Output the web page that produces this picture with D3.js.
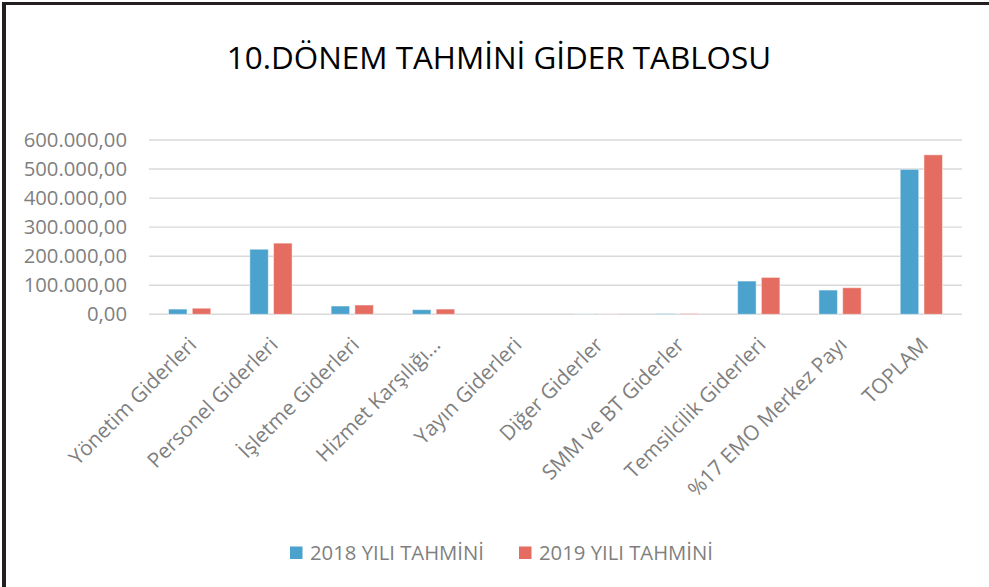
<!DOCTYPE html>
<html><head><meta charset="utf-8">
<script src="https://cdn.jsdelivr.net/npm/d3@7"></script>
<style>html,body{margin:0;padding:0;background:#fff;}svg{display:block;}</style>
</head><body>
<script>
const categories = ["Yönetim Giderleri","Personel Giderleri","İşletme Giderleri","Hizmet Karşılığı...","Yayın Giderleri","Diğer Giderler","SMM ve BT Giderler","Temsilcilik Giderleri","%17 EMO Merkez Payı","TOPLAM"];
const series = ["2018 YILI TAHMİNİ","2019 YILI TAHMİNİ"];
const values2018 = [18000,224000,28500,16000,0,600,2500,114500,83500,499000];
const values2019 = [21000,245000,32000,18000,0,600,2500,127000,91500,549000];
const yTicks = [0,100000,200000,300000,400000,500000,600000];
const title = "10.DÖNEM TAHMİNİ GİDER TABLOSU";

const W = 989, H = 587;
const colors = ["#4ba2cd","#e46c60"];
const font = "'Open Sans', sans-serif";
const svg = d3.select("body").append("svg").attr("width",W).attr("height",H);
svg.append("rect").attr("width",W).attr("height",H).attr("fill","#fff");

// frame
svg.append("line").attr("x1",2).attr("x2",W).attr("y1",3.5).attr("y2",3.5).attr("stroke","#231f20").attr("stroke-width",3);
svg.append("line").attr("x1",4).attr("x2",4).attr("y1",2).attr("y2",H).attr("stroke","#231f20").attr("stroke-width",4);

svg.append("text").attr("x",499).attr("y",69).attr("text-anchor","middle")
  .attr("font-family",font).attr("font-size",31.4).attr("fill","#000").text(title);

const x = d3.scaleBand().domain(categories).range([149,962]).paddingInner(0.48).paddingOuter(0.24);
const xs = d3.scaleBand().domain(series).range([0,x.bandwidth()]).paddingInner(0.22);
const y = d3.scaleLinear().domain([0,600000]).range([314.3,140]);

const fmt = d3.formatLocale({decimal:",",thousands:".",grouping:[3],currency:["",""]}).format(",.2f");

svg.append("g").selectAll("line").data(yTicks).join("line")
  .attr("x1",149).attr("x2",962).attr("y1",d=>y(d)).attr("y2",d=>y(d))
  .attr("stroke","#d9d9d9").attr("stroke-width",1.4);

svg.append("g").selectAll("text").data(yTicks).join("text")
  .attr("x",127).attr("y",d=>y(d)).attr("dy","0.35em").attr("text-anchor","end")
  .attr("font-family",font).attr("font-size",20.3).attr("fill","#7f7f7f").text(d=>fmt(d));

const data = categories.map((c,i)=>({c, v:[values2018[i],values2019[i]]}));
const g = svg.append("g");
data.forEach(d=>{
  series.forEach((s,j)=>{
    const v = d.v[j];
    g.append("rect").attr("x",x(d.c)+xs(s)).attr("width",xs.bandwidth())
      .attr("y",y(v)).attr("height",y(0)-y(v)).attr("fill",colors[j])
      .attr("stroke","#fff").attr("stroke-opacity",0.5).attr("stroke-width",1);
  });
});

svg.append("g").selectAll("text").data(categories).join("text")
  .attr("transform",d=>`translate(${x(d)+x.bandwidth()/2+3},${341}) rotate(-45)`)
  .attr("text-anchor","end").attr("dy","0.35em")
  .attr("font-family",font).attr("font-size",20.8).attr("fill","#7f7f7f").text(d=>d);

const lx = [290,519];
const lg = svg.append("g");
series.forEach((s,j)=>{
  lg.append("rect").attr("x",lx[j]).attr("y",546.5).attr("width",12.5).attr("height",12.5).attr("fill",colors[j]);
  lg.append("text").attr("x",lx[j]+20).attr("y",560).attr("font-family",font).attr("font-size",20.3)
    .attr("fill","#7f7f7f").text(s);
});
</script>
</body></html>
